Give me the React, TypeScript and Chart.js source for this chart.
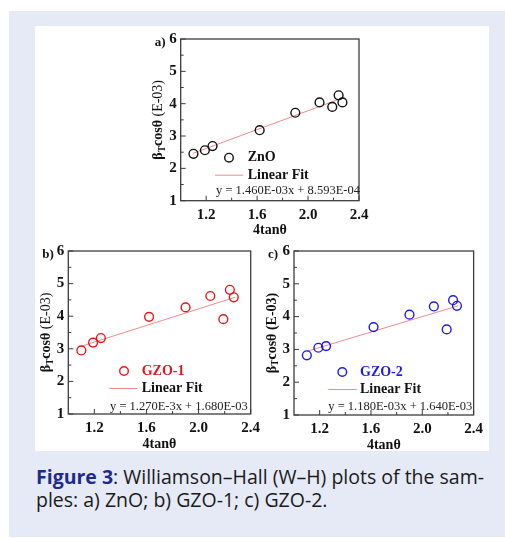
import React, { useEffect, useRef } from "react";
import { Chart, registerables } from "chart.js";

Chart.register(...registerables);

// ---- data ----
const xValues = [1.1, 1.19, 1.25, 1.62, 1.9, 2.09, 2.19, 2.24, 2.27];
const znoValues = [2.45, 2.56, 2.69, 3.18, 3.72, 4.04, 3.9, 4.26, 4.04];
const gzo1Values = [2.95, 3.19, 3.33, 3.98, 4.27, 4.62, 3.91, 4.81, 4.58];
const gzo2Values = [2.82, 3.05, 3.1, 3.68, 4.06, 4.31, 3.61, 4.5, 4.33];
const fitX = [1.1, 2.28];
const znoFit = [2.47, 4.19];
const gzo1Fit = [3.08, 4.58];
const gzo2Fit = [2.94, 4.33];
const seriesNames = ["ZnO", "GZO-1", "GZO-2"];
const equations = [
  "y = 1.460E-03x + 8.593E-04",
  "y = 1.270E-3x + 1.680E-03",
  "y = 1.180E-03x + 1.640E-03",
];
const panelLabels = ["a)", "b)", "c)"];
const xMajorTicks = [1.2, 1.6, 2.0, 2.4];
const xMinorTicks = [1.4, 1.8, 2.2];
const yMajorTicks = [1, 2, 3, 4, 5, 6];
const yMinorTicks = [1.5, 2.5, 3.5, 4.5, 5.5];
const xTitle = "4tanθ";
const fitName = "Linear Fit";

const SERIF = "'Liberation Serif', 'Times New Roman', serif";

type Spec = {
  idx: number;
  left: number;
  top: number;
  width: number;
  height: number;
  plot: { left: number; top: number; right: number; bottom: number };
  color: string;
  values: number[];
  fit: number[];
  lg: { marker: number; text: number; l0: number; l1: number; eq: number; eqY: number };
  boldParen: boolean;
};

const specs: Spec[] = [
  {
    idx: 0,
    left: 118,
    top: 26,
    width: 262,
    height: 215,
    plot: { left: 180.7, top: 37.3, right: 359, bottom: 200.7 },
    color: "#111111",
    values: znoValues,
    fit: znoFit,
    lg: { marker: 48.3, text: 67, l0: 34.3, l1: 62.3, eq: 35.3, eqY: 10 },
    boldParen: false,
  },
  {
    idx: 1,
    left: 36,
    top: 238,
    width: 230,
    height: 212,
    plot: { left: 68.3, top: 250, right: 250.7, bottom: 414 },
    color: "#e8161b",
    values: gzo1Values,
    fit: gzo1Fit,
    lg: { marker: 55.7, text: 73.4, l0: 41, l1: 69, eq: 41.7, eqY: 7.5 },
    boldParen: false,
  },
  {
    idx: 2,
    left: 255,
    top: 238,
    width: 233,
    height: 212,
    plot: { left: 294, top: 250.7, right: 475.7, bottom: 415 },
    color: "#1c1ce6",
    values: gzo2Values,
    fit: gzo2Fit,
    lg: { marker: 48.3, text: 66, l0: 34.3, l1: 62.7, eq: 34.3, eqY: 8.3 },
    boldParen: true,
  },
];

function Panel({ spec }: { spec: Spec }) {
  const ref = useRef<HTMLCanvasElement>(null);
  useEffect(() => {
    const canvas = ref.current!;
    const padLeft = spec.plot.left - spec.left;
    const padTop = spec.plot.top - spec.top;
    const padRight = spec.left + spec.width - spec.plot.right;
    const padBottom = spec.top + spec.height - spec.plot.bottom;
    const tickFont = { family: SERIF, size: 15, weight: "bold" as const };

    const decor = {
      id: "decor" + spec.idx,
      afterDraw(chart: any) {
        const ctx: CanvasRenderingContext2D = chart.ctx;
        const { left, top, right, bottom } = chart.chartArea;
        const xs = chart.scales.x;
        const ys = chart.scales.y;
        ctx.save();
        // frame
        ctx.strokeStyle = "#3c3c3c";
        ctx.lineWidth = 1.3;
        ctx.strokeRect(left, top, right - left, bottom - top);
        // inward ticks
        ctx.lineWidth = 1;
        ctx.beginPath();
        xMajorTicks.forEach((v) => {
          const p = xs.getPixelForValue(v);
          ctx.moveTo(p, bottom);
          ctx.lineTo(p, bottom - 5);
        });
        xMinorTicks.forEach((v) => {
          const p = xs.getPixelForValue(v);
          ctx.moveTo(p, bottom);
          ctx.lineTo(p, bottom - 3);
        });
        yMajorTicks.forEach((v) => {
          const p = ys.getPixelForValue(v);
          ctx.moveTo(left, p);
          ctx.lineTo(left + 5, p);
        });
        yMinorTicks.forEach((v) => {
          const p = ys.getPixelForValue(v);
          ctx.moveTo(left, p);
          ctx.lineTo(left + 3, p);
        });
        ctx.stroke();

        // panel label
        ctx.fillStyle = "#111";
        ctx.font = `bold 13px ${SERIF}`;
        ctx.textAlign = "left";
        ctx.textBaseline = "middle";
        ctx.fillText(panelLabels[spec.idx], left - 26, top + 4);

        // x title
        ctx.font = `bold 14px ${SERIF}`;
        ctx.textAlign = "center";
        ctx.fillText(xTitle, (left + right) / 2, bottom + 30);

        // y title (rotated, with subscript)
        ctx.save();
        ctx.translate(left - 22, (top + bottom) / 2);
        ctx.rotate(-Math.PI / 2);
        const parts = [
          { t: "β", f: `bold 14px ${SERIF}`, dy: 0 },
          { t: "T", f: `bold 9.5px ${SERIF}`, dy: 4 },
          { t: "cosθ", f: `bold 14px ${SERIF}`, dy: 0 },
          { t: " (E-03)", f: `${spec.boldParen ? "bold " : ""}14px ${SERIF}`, dy: 0 },
        ];
        let total = 0;
        parts.forEach((p) => {
          ctx.font = p.f;
          total += ctx.measureText(p.t).width;
        });
        let cx = -total / 2;
        ctx.textAlign = "left";
        parts.forEach((p) => {
          ctx.font = p.f;
          ctx.fillText(p.t, cx, p.dy);
          cx += ctx.measureText(p.t).width;
        });
        ctx.restore();

        // legend
        const lg = spec.lg;
        ctx.strokeStyle = spec.color;
        ctx.lineWidth = 1.4;
        ctx.beginPath();
        ctx.arc(left + lg.marker, bottom - 43, 4.3, 0, Math.PI * 2);
        ctx.stroke();
        ctx.fillStyle = spec.color;
        ctx.font = `bold 14px ${SERIF}`;
        ctx.textAlign = "left";
        ctx.fillText(seriesNames[spec.idx], left + lg.text, bottom - 43);
        ctx.strokeStyle = "#f08a8a";
        ctx.lineWidth = 1;
        ctx.beginPath();
        ctx.moveTo(left + lg.l0, bottom - 25.5);
        ctx.lineTo(left + lg.l1, bottom - 25.5);
        ctx.stroke();
        ctx.fillStyle = "#111";
        ctx.fillText(fitName, left + lg.text, bottom - 25.5);
        ctx.font = `12.5px ${SERIF}`;
        ctx.fillStyle = "#222";
        ctx.fillText(equations[spec.idx], left + lg.eq, bottom - lg.eqY);
        ctx.restore();
      },
    };

    const chart = new Chart(canvas, {
      type: "scatter",
      data: {
        datasets: [
          {
            label: seriesNames[spec.idx],
            data: xValues.map((x, i) => ({ x, y: spec.values[i] })),
            pointStyle: "circle",
            pointRadius: 4.4,
            pointBorderWidth: 1.4,
            borderColor: spec.color,
            backgroundColor: "rgba(0,0,0,0)",
            showLine: false,
            order: 0,
          },
          {
            label: fitName,
            data: fitX.map((x, i) => ({ x, y: spec.fit[i] })),
            showLine: true,
            borderColor: "#f08a8a",
            borderWidth: 1,
            pointRadius: 0,
            fill: false,
            order: 1,
          },
        ],
      },
      options: {
        animation: false,
        responsive: false,
        devicePixelRatio: 1,
        layout: { padding: { left: 0, top: padTop, right: padRight, bottom: 0 } },
        plugins: { legend: { display: false }, tooltip: { enabled: false } },
        scales: {
          x: {
            type: "linear",
            min: 1.0,
            max: 2.4,
            afterBuildTicks: (s: any) => {
              s.ticks = xMajorTicks.map((v) => ({ value: v }));
            },
            afterFit: (s: any) => {
              s.height = padBottom;
            },
            ticks: {
              font: tickFont,
              color: "#111",
              padding: 5,
              maxRotation: 0,
              autoSkip: false,
              callback: (v: any) => Number(v).toFixed(1),
            },
            grid: { display: false, drawTicks: false },
            border: { display: false },
          },
          y: {
            type: "linear",
            min: 1,
            max: 6,
            afterBuildTicks: (s: any) => {
              s.ticks = yMajorTicks.map((v) => ({ value: v }));
            },
            afterFit: (s: any) => {
              s.width = padLeft;
            },
            ticks: {
              font: tickFont,
              color: "#111",
              padding: 4,
              autoSkip: false,
              callback: (v: any) => String(v),
            },
            grid: { display: false, drawTicks: false },
            border: { display: false },
          },
        },
      },
      plugins: [decor],
    } as any);
    return () => chart.destroy();
  }, [spec]);
  return (
    <canvas
      ref={ref}
      width={spec.width}
      height={spec.height}
      style={{
        position: "absolute",
        left: spec.left,
        top: spec.top,
        width: spec.width,
        height: spec.height,
      }}
    />
  );
}

export default function App() {
  return (
    <div
      style={{
        position: "absolute",
        left: 0,
        top: 0,
        width: 505,
        height: 538,
        background: "#ffffff",
        overflow: "hidden",
      }}
    >
      <div
        style={{
          position: "absolute",
          left: 9,
          top: 11,
          width: 496,
          height: 526,
          background: "#e6eaf6",
        }}
      />
      <div
        style={{
          position: "absolute",
          left: 35,
          top: 26,
          width: 454,
          height: 425,
          background: "#ffffff",
        }}
      />
      {specs.map((s) => (
        <Panel key={s.idx} spec={s} />
      ))}
      <div
        style={{
          position: "absolute",
          left: 36,
          top: 465,
          fontFamily: "'Open Sans', 'Noto Sans', sans-serif",
          fontSize: 19.5,
          lineHeight: "23px",
          color: "#1a1a1a",
          whiteSpace: "nowrap",
        }}
      >
        <span style={{ fontWeight: 700, color: "#1d2a92" }}>Figure 3</span>
        {": Williamson–Hall (W–H) plots of the sam-"}
        <br />
        {"ples: a) ZnO; b) GZO-1; c) GZO-2."}
      </div>
    </div>
  );
}
